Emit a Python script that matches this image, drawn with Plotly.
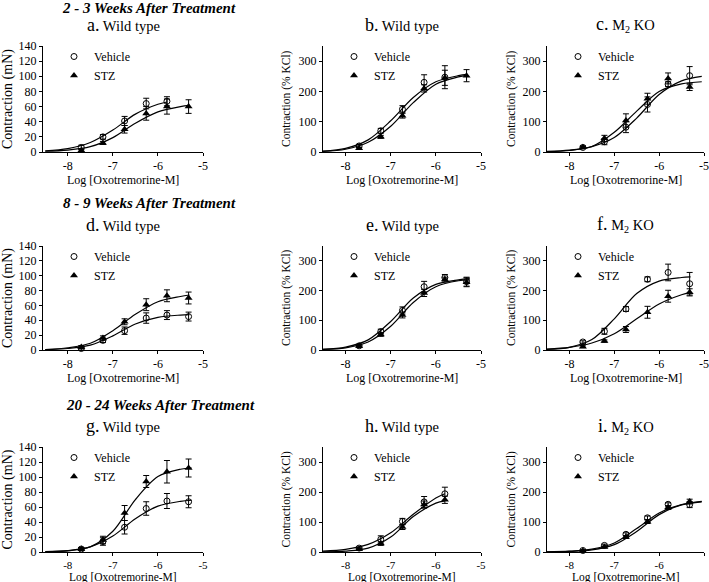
import plotly.graph_objects as go

W, H = 709, 582
FONT = "Liberation Serif, Times New Roman, Times, DejaVu Serif, serif"

# ---------------- data ----------------
log_dose = [-7.7, -7.22, -6.74, -6.26, -5.8, -5.32]
x_tick_vals = [-8, -7, -6, -5]
x_tick_text = ["-8", "-7", "-6", "-5"]
mn_ticks = [0, 20, 40, 60, 80, 100, 120, 140]
kcl_ticks = [0, 100, 200, 300]

row_headers = ["2 - 3 Weeks After Treatment", "8 - 9 Weeks After Treatment",
               "20 - 24 Weeks After Treatment"]
panel_letters = ["a.", "b.", "c.", "d.", "e.", "f.", "g.", "h.", "i."]
panel_names = ["Wild type", "Wild type", "M<sub>2</sub> KO",
               "Wild type", "Wild type", "M<sub>2</sub> KO",
               "Wild type", "Wild type", "M<sub>2</sub> KO"]
series_names = ["Vehicle", "STZ"]

# fitted-curve sample positions
fit_x_58 = [-8.5, -8, -7.5, -7, -6.5, -6, -5.8]
fit_x_53 = [-8.5, -8, -7.5, -7, -6.5, -6, -5.5, -5.3]
fit_x_525 = [-8.5, -8, -7.5, -7, -6.5, -6, -5.5, -5.25]
fit_x_505 = [-8.5, -8, -7.5, -7, -6.5, -6, -5.5, -5.05]

# panel a (mN)
a_veh = [6, 20, 41, 64, 67]
a_veh_err = [3, 3, 6, 7, 6]
a_stz = [2, 12, 30, 51, 60, 60]
a_stz_err = [2, 2, 5, 9, 10, 9]
a_veh_fit = [1.5, 4.5, 12.5, 29, 50, 63, 66]
a_stz_fit = [1, 2.5, 7, 19, 38, 53, 60, 61.5]

# panel b (% KCl)
b_veh = [20, 70, 141, 230, 247]
b_veh_err = [5, 8, 12, 25, 38]
b_stz = [12, 50, 120, 210, 245, 252]
b_stz_err = [3, 5, 8, 12, 25, 20]
b_veh_fit = [3, 12, 40, 103, 180, 232, 252, 256]
b_stz_fit = [2, 9, 32, 85, 163, 224, 248, 254]

# panel c (% KCl)
c_veh = [15, 34, 82, 157, 224, 252]
c_veh_err = [4, 10, 18, 25, 8, 30]
c_stz = [16, 45, 104, 176, 243, 215]
c_stz_err = [4, 10, 22, 18, 18, 12]
c_veh_fit = [2, 6, 18, 48, 112, 190, 235, 250]
c_stz_fit = [1, 5, 18, 65, 135, 200, 225, 232]

# panel d (mN)
d_veh = [2, 13, 26, 43, 47, 45]
d_veh_err = [2, 3, 5, 7, 6, 6]
d_stz = [4, 16, 38, 61, 73, 70]
d_stz_err = [2, 3, 4, 8, 8, 8]
d_veh_fit = [0.5, 2, 6.5, 19, 35, 44, 47, 47.5]
d_stz_fit = [0.7, 3, 9, 26, 48, 65, 72, 74]

# panel e (% KCl)
e_veh = [14, 62, 133, 213, 244, 230]
e_veh_err = [4, 8, 12, 18, 10, 15]
e_stz = [13, 52, 118, 192, 237, 228]
e_stz_err = [3, 6, 10, 12, 8, 15]
e_veh_fit = [2.5, 9.7, 34, 96, 175, 221, 236, 240]
e_stz_fit = [1.9, 7.4, 27, 80, 160, 213, 233, 236]

# panel f (% KCl)
f_veh = [27, 63, 138, 238, 261, 223]
f_veh_err = [4, 10, 8, 8, 28, 38]
f_stz = [11, 30, 69, 127, 181, 194]
f_stz_err = [3, 4, 10, 20, 20, 12]
f_veh_fit = [2, 9, 35, 105, 190, 232, 244, 246]
f_stz_fit = [3.3, 9, 23.5, 55, 105, 155, 186, 194]

# panel g (mN)
g_veh = [4, 14, 33, 58, 68, 67]
g_veh_err = [2, 5, 9, 9, 10, 8]
g_stz = [4, 16, 52, 94, 107, 112]
g_stz_err = [2, 5, 10, 8, 15, 12]
g_veh_fit = [0.5, 1.9, 6.9, 21.3, 44.4, 61.2, 67.6, 69]
g_stz_fit = [0.3, 1.4, 6.9, 27.6, 69.9, 100.6, 110.3, 112]

# panel h (% KCl)
h_veh = [13, 42, 102, 167, 194]
h_veh_err = [3, 12, 10, 18, 22]
h_stz = [9, 28, 83, 158, 174]
h_stz_err = [2, 6, 8, 12, 12]
h_veh_fit = [2.8, 8.7, 25.3, 64, 125.7, 180, 194]
h_stz_fit = [0.5, 2.7, 12.7, 49.6, 118, 163, 170.6]

# panel i (% KCl)
i_veh = [5, 22, 59, 114, 159, 158]
i_veh_err = [2, 4, 5, 6, 5, 10]
i_stz = [4, 17, 50, 101, 148, 168]
i_stz_err = [2, 3, 5, 6, 6, 8]
i_veh_fit = [0.8, 2.8, 9.5, 30, 78, 130, 158, 169]
i_stz_fit = [0.45, 1.8, 6.9, 24.5, 68.5, 124.6, 157, 167.4]

panels = [
    (a_veh, a_veh_err, a_stz, a_stz_err, fit_x_58, a_veh_fit, fit_x_53, a_stz_fit, "mN"),
    (b_veh, b_veh_err, b_stz, b_stz_err, fit_x_53, b_veh_fit, fit_x_53, b_stz_fit, "kcl"),
    (c_veh, c_veh_err, c_stz, c_stz_err, fit_x_505, c_veh_fit, fit_x_505, c_stz_fit, "kcl"),
    (d_veh, d_veh_err, d_stz, d_stz_err, fit_x_53, d_veh_fit, fit_x_53, d_stz_fit, "mN"),
    (e_veh, e_veh_err, e_stz, e_stz_err, fit_x_525, e_veh_fit, fit_x_525, e_stz_fit, "kcl"),
    (f_veh, f_veh_err, f_stz, f_stz_err, fit_x_53, f_veh_fit, fit_x_53, f_stz_fit, "kcl"),
    (g_veh, g_veh_err, g_stz, g_stz_err, fit_x_525, g_veh_fit, fit_x_525, g_stz_fit, "mN"),
    (h_veh, h_veh_err, h_stz, h_stz_err, fit_x_58, h_veh_fit, fit_x_58, h_stz_fit, "kcl"),
    (i_veh, i_veh_err, i_stz, i_stz_err, fit_x_505, i_veh_fit, fit_x_505, i_stz_fit, "kcl"),
]

# ---------------- layout geometry (pixels) ----------------
col_px = [(43, 203), (323, 481), (547, 704)]
col_xrange = [[-8.55, -5], [-8.5, -5], [-8.5, -5]]
row_px = [(46, 152), (246, 350), (447, 552)]
xtitle_gap = [28, 28, 25]
xtitle_size = [12, 12, 11.5]
xtick_size = [12, 12, 11]
ytitle_x = [8, 286, 511]
ytitle_size = [14, 11.5, 11.5]
header_y = [8, 203, 405]
header_cx = [149, 149, 160]


def fx(px):
    return px / W


def fy(py):
    return 1 - py / H


fig = go.Figure()
layout = dict(
    width=W, height=H, autosize=False,
    margin=dict(l=0, r=0, t=0, b=0, pad=0, autoexpand=False),
    paper_bgcolor="white", plot_bgcolor="white",
    font=dict(family=FONT, color="black", size=12),
    annotations=[],
)

veh_marker = dict(symbol="circle-open", size=6, color="black", line=dict(color="black", width=1))
stz_marker = dict(symbol="triangle-up", size=7, color="black", line=dict(color="black", width=0))

for idx, (veh, veh_err, stz, stz_err, vfx, vfy, sfx, sfy, unit) in enumerate(panels):
    r, c = idx // 3, idx % 3
    sfxn = "" if idx == 0 else str(idx + 1)
    xa, ya = "x" + sfxn, "y" + sfxn
    leg = "legend" + sfxn

    # fitted curves
    fig.add_trace(go.Scatter(x=vfx, y=vfy, mode="lines", xaxis=xa, yaxis=ya,
                             line=dict(color="black", width=1.2, shape="spline", smoothing=0.9),
                             showlegend=False, hoverinfo="skip"))
    fig.add_trace(go.Scatter(x=sfx, y=sfy, mode="lines", xaxis=xa, yaxis=ya,
                             line=dict(color="black", width=1.2, shape="spline", smoothing=0.9),
                             showlegend=False, hoverinfo="skip"))
    # data points with SEM bars
    fig.add_trace(go.Scatter(x=log_dose[:len(veh)], y=veh, mode="markers", xaxis=xa, yaxis=ya,
                             marker=veh_marker, cliponaxis=False,
                             error_y=dict(type="data", array=veh_err, color="black", thickness=1, width=3),
                             name=series_names[0], showlegend=False))
    fig.add_trace(go.Scatter(x=log_dose[:len(stz)], y=stz, mode="markers", xaxis=xa, yaxis=ya,
                             marker=stz_marker, cliponaxis=False,
                             error_y=dict(type="data", array=stz_err, color="black", thickness=1, width=3),
                             name=series_names[1], showlegend=False))
    # legend entries
    fig.add_trace(go.Scatter(x=[None], y=[None], mode="markers", xaxis=xa, yaxis=ya,
                             marker=veh_marker, name=series_names[0], legend=leg, showlegend=True))
    fig.add_trace(go.Scatter(x=[None], y=[None], mode="markers", xaxis=xa, yaxis=ya,
                             marker=stz_marker, name=series_names[1], legend=leg, showlegend=True))

    x0, x1 = col_px[c]
    y0, y1 = row_px[r]
    xkey = "xaxis" + sfxn
    ykey = "yaxis" + sfxn
    layout[xkey] = dict(
        domain=[fx(x0), fx(x1)], range=col_xrange[c], anchor=ya,
        showline=True, linecolor="black", linewidth=1, showgrid=False, zeroline=False,
        ticks="outside", ticklen=3, tickwidth=1, tickcolor="black",
        tickvals=x_tick_vals, ticktext=x_tick_text, tickfont=dict(size=xtick_size[r]),
        automargin=False,
    )
    if unit == "mN":
        yr, ytv = [0, 140], mn_ticks
        ytitle = "Contraction (mN)"
    else:
        yr, ytv = [0, 350], kcl_ticks
        ytitle = "Contraction (% KCl)"
    layout[ykey] = dict(
        domain=[fy(y1), fy(y0)], range=yr, anchor=xa,
        showline=True, linecolor="black", linewidth=1, showgrid=False, zeroline=False,
        ticks="outside", ticklen=3, tickwidth=1, tickcolor="black",
        tickvals=ytv, tickfont=dict(size=12), automargin=False,
    )
    layout[leg] = dict(
        x=fx(x0 + 11), y=fy(y0 - 4), xanchor="left", yanchor="top",
        bgcolor="rgba(0,0,0,0)", font=dict(size=12, family=FONT),
        itemwidth=30, tracegroupgap=0,
    )

    # titles
    cx = (x0 + x1) / 2
    layout["annotations"].append(dict(
        x=fx(cx), y=fy(y0 - 21), xref="paper", yref="paper", showarrow=False,
        xanchor="center", yanchor="middle",
        text="<span style='font-size:18px'>" + panel_letters[idx] + "</span> " + panel_names[idx],
        font=dict(size=14.5, family=FONT)))
    layout["annotations"].append(dict(
        x=fx(cx), y=fy(y1 + xtitle_gap[r]), xref="paper", yref="paper", showarrow=False,
        xanchor="center", yanchor="middle", text="Log [Oxotremorine-M]",
        font=dict(size=xtitle_size[r], family=FONT)))
    layout["annotations"].append(dict(
        x=fx(ytitle_x[c]), y=fy((y0 + y1) / 2), xref="paper", yref="paper", showarrow=False,
        xanchor="center", yanchor="middle", textangle=-90, text=ytitle,
        font=dict(size=ytitle_size[c], family=FONT)))

for r in range(3):
    layout["annotations"].append(dict(
        x=fx(header_cx[r]), y=fy(header_y[r]), xref="paper", yref="paper", showarrow=False,
        xanchor="center", yanchor="middle", text="<b><i>" + row_headers[r] + "</i></b>",
        font=dict(size=15, family=FONT)))

fig.update_layout(**layout)
fig.write_html("out.html", config={"displayModeBar": False},
               post_script="document.body.style.margin='0px';")
